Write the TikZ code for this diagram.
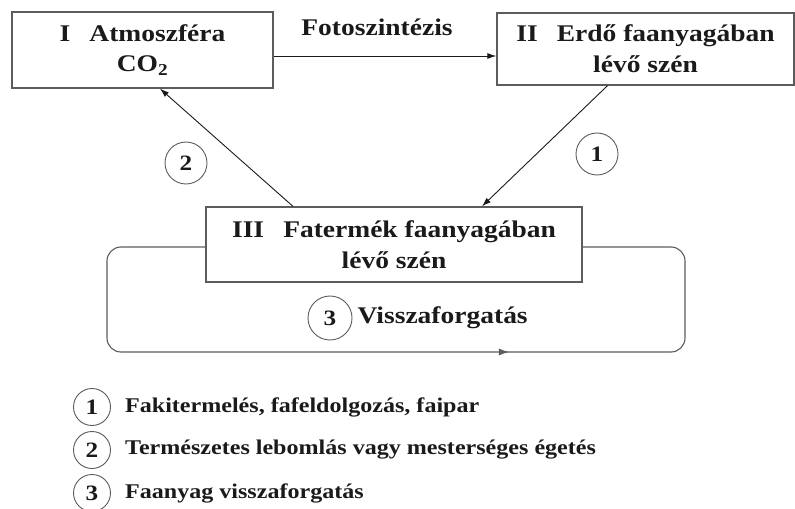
\documentclass[tikz,border=0pt]{standalone}
\usepackage{fontspec}
\setmainfont{Liberation Serif}[FakeStretch=1.15]
\usetikzlibrary{arrows.meta,positioning,calc,decorations.markings}
\definecolor{edge}{HTML}{5C5C5C}
\definecolor{ink}{HTML}{1A1A1A}
\tikzset{
  >={Latex[length=9bp,width=6bp]},
  box/.style={draw=edge,line width=1.3bp,inner sep=0pt,align=center,text=ink,fill=white,font=\fontsize{24}{31}\selectfont\bfseries},
  num/.style={circle,draw=edge,line width=0.9bp,minimum size=42bp,inner sep=0pt,text=ink,font=\fontsize{22}{22}\selectfont\bfseries},
  lab/.style={text=ink,inner sep=2bp,font=\fontsize{21}{21}\selectfont\bfseries},
  blab/.style={lab,font=\fontsize{24}{24}\selectfont\bfseries},
  arr/.style={->,draw=ink,line width=0.9bp},
  loopline/.style={draw=edge,line width=1.1bp,rounded corners=14bp,
    postaction={decorate,decoration={markings,mark=at position 0.615 with {\arrow{Latex[length=10bp,width=7bp]}}}}},
}
\begin{document}
\begin{tikzpicture}[x=1bp,y=-1bp]
\useasboundingbox (0,0) rectangle (795,509);
% carbon stores
\node[box,minimum width=261bp,minimum height=76bp] (atm) at (142.5,50) {I\hspace{0.8em}Atmoszféra\\CO\textsubscript{2}};
\node[box,minimum width=297bp,minimum height=72bp] (erdo) at (645.5,49) {II\hspace{0.8em}Erdő faanyagában\\lévő szén};
\node[box,minimum width=376bp,minimum height=75bp] (fatermek) at (394,244.5) {III\hspace{0.8em}Fatermék faanyagában\\lévő szén};
% flows between stores
\draw[arr] ($(atm.east)+(0,6)$) -- ($(erdo.west)+(0,7)$);
\node[blab] (foto) at (377,27) {Fotoszintézis};
\draw[arr] ($(erdo.south)+(-38,0)$) -- ($(fatermek.north)+(88,0)$);
\draw[arr] ($(fatermek.north)+(-101,0)$) -- ($(atm.south)+(17.5,0)$);
\node[num] (n1) at (597,154) {1};
\node[num] (n2) at (186,163) {2};
% recycling loop
\coordinate (lpL) at (107,352);
\coordinate (lpR) at (685,247);
\draw[loopline] ($(fatermek.west)+(0,2.5)$) -| (lpL) -- (lpL -| lpR) |- ($(fatermek.east)+(0,2.5)$);
\node[num,minimum size=44bp] (n3) at (330,318) {3};
\node[blab,right=3bp of n3] (visz) {Visszaforgatás};
% legend
\foreach \n/\t [count=\i from 0] in {1/{Fakitermelés, fafeldolgozás, faipar},2/{Természetes lebomlás vagy mesterséges égetés},3/{Faanyag visszaforgatás}} {
  \node[num,minimum size=37bp] (leg\n) at (92,407+43*\i) {\n};
  \node[lab,right=12bp of leg\n] (legt\n) {\t};
}
\end{tikzpicture}
\end{document}
